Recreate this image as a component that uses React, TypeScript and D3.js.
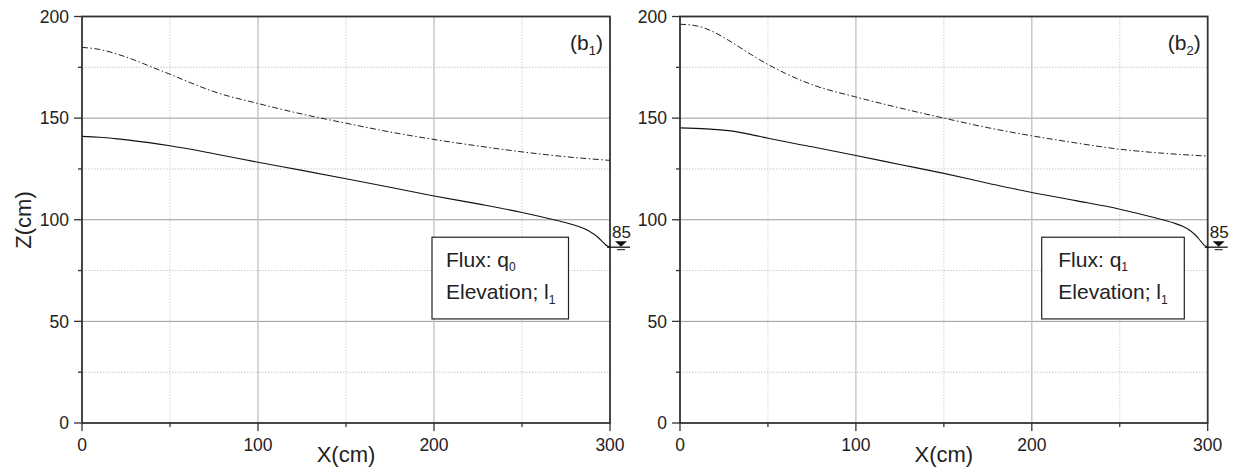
import React from "react";
import * as d3 from "d3";

// ---------- data ----------
const xTicks = [0, 100, 200, 300];
const xMinorTicks = [50, 150, 250];
const yTicks = [0, 50, 100, 150, 200];
const yMinorTicks = [25, 75, 125, 175];

const b1SolidX = [0, 10, 20, 30, 40, 50, 75, 100, 125, 150, 175, 200, 225, 250, 270, 280, 288, 293, 296, 298, 300];
const b1SolidZ = [141, 140.6, 139.8, 138.8, 137.7, 136.4, 132.5, 128.3, 124.3, 120.2, 116, 111.7, 107.8, 103.6, 99.6, 97.3, 94.5, 91.5, 89, 87.3, 86.5];
const b1DashX = [0, 10, 20, 30, 40, 50, 60, 75, 100, 125, 150, 175, 200, 225, 250, 275, 300];
const b1DashZ = [184.8, 183.8, 181.5, 178.5, 175, 171.6, 168, 163, 157.2, 152, 147.5, 143.2, 139.5, 136.3, 133.4, 131, 129.2];

const b2SolidX = [0, 15, 30, 40, 50, 75, 100, 125, 150, 175, 200, 225, 250, 270, 280, 288, 293, 296, 298, 300];
const b2SolidZ = [145.2, 144.7, 143.6, 142, 140.1, 135.9, 131.6, 127.2, 122.8, 118, 113.4, 109.4, 105.2, 101, 98.6, 95.8, 92.5, 89.5, 87.5, 86.5];
const b2DashX = [0, 10, 20, 30, 40, 50, 60, 75, 100, 125, 150, 175, 200, 225, 250, 275, 300];
const b2DashZ = [196.2, 195.3, 192, 187, 181.5, 176.4, 172, 166.5, 160.4, 155, 150, 145.3, 141.3, 137.8, 134.7, 132.7, 131.3];

const panelLabels = ["b", "b"];
const panelSubs = ["1", "2"];
const fluxSubs = ["0", "1"];
const elevSubs = ["1", "1"];
const waterLabel = "85";

const FONT = "'Liberation Sans', Arial, Helvetica, sans-serif";
const TXT = "#222";

type PanelProps = {
  x0: number;
  x1: number;
  idx: number;
  solidX: number[];
  solidZ: number[];
  dashX: number[];
  dashZ: number[];
  legendLeft: number;
  legendRight: number;
  textLeft: number;
};

const TOP = 16.5;
const BOTTOM = 423;

function Panel(p: PanelProps) {
  const x = d3.scaleLinear().domain([0, 300]).range([p.x0, p.x1]);
  const y = d3.scaleLinear().domain([0, 200]).range([BOTTOM, TOP]);
  const line = d3
    .line<[number, number]>()
    .x((d) => x(d[0]))
    .y((d) => y(d[1]))
    .curve(d3.curveMonotoneX);
  const solid = line(p.solidX.map((v, i) => [v, p.solidZ[i]] as [number, number])) || "";
  const dash = line(p.dashX.map((v, i) => [v, p.dashZ[i]] as [number, number])) || "";
  const endZ = p.solidZ[p.solidZ.length - 1];
  const wy = y(endZ);
  const wx = x(300);
  const boxTop = y(91.4);
  const boxBot = y(51.2);

  return (
    <g>
      {/* minor grid */}
      {yMinorTicks.map((t) => (
        <line key={"ym" + t} x1={p.x0} x2={p.x1} y1={y(t)} y2={y(t)} stroke="#c8c8c8" strokeWidth={1} strokeDasharray="1.5,1.5" />
      ))}
      {xMinorTicks.map((t) => (
        <line key={"xm" + t} x1={x(t)} x2={x(t)} y1={TOP} y2={BOTTOM} stroke="#d0d0d0" strokeWidth={1} strokeDasharray="1.5,1.5" />
      ))}
      {/* major grid */}
      {yTicks.slice(1, -1).map((t) => (
        <line key={"yg" + t} x1={p.x0} x2={p.x1} y1={y(t)} y2={y(t)} stroke="#9a9a9a" strokeWidth={1} />
      ))}
      {xTicks.slice(1, -1).map((t) => (
        <line key={"xg" + t} x1={x(t)} x2={x(t)} y1={TOP} y2={BOTTOM} stroke="#c0c0c0" strokeWidth={1.3} />
      ))}
      {/* curves */}
      <path d={dash} fill="none" stroke="#222" strokeWidth={1} strokeDasharray="6,2.5,1.5,2.5" />
      <path d={solid} fill="none" stroke="#111" strokeWidth={1.1} />
      {/* frame */}
      <rect x={p.x0} y={TOP} width={p.x1 - p.x0} height={BOTTOM - TOP} fill="none" stroke="#333" strokeWidth={1.8} />
      {/* ticks */}
      {yTicks.map((t) => (
        <line key={"yt" + t} x1={p.x0 - 8} x2={p.x0} y1={y(t)} y2={y(t)} stroke="#333" strokeWidth={1.3} />
      ))}
      {yMinorTicks.map((t) => (
        <line key={"ytm" + t} x1={p.x0 - 4} x2={p.x0} y1={y(t)} y2={y(t)} stroke="#333" strokeWidth={1.3} />
      ))}
      {xTicks.map((t) => (
        <line key={"xt" + t} x1={x(t)} x2={x(t)} y1={BOTTOM} y2={BOTTOM + 8} stroke="#333" strokeWidth={1.3} />
      ))}
      {xMinorTicks.map((t) => (
        <line key={"xtm" + t} x1={x(t)} x2={x(t)} y1={BOTTOM} y2={BOTTOM + 4} stroke="#333" strokeWidth={1.3} />
      ))}
      {/* tick labels */}
      {yTicks.map((t) => (
        <text key={"yl" + t} x={p.x0 - 13} y={y(t) + 6.2} textAnchor="end" fontSize={17.5} fontFamily={FONT} fill={TXT}>
          {t}
        </text>
      ))}
      {xTicks.map((t) => (
        <text key={"xl" + t} x={x(t)} y={BOTTOM + 27.5} textAnchor="middle" fontSize={17.5} fontFamily={FONT} fill={TXT}>
          {t}
        </text>
      ))}
      {/* axis title */}
      <text x={x(150)} y={462} textAnchor="middle" fontSize={22} fontFamily={FONT} fill={TXT}>
        X(cm)
      </text>
      {/* panel label */}
      <text x={p.x1 - 7} y={50} textAnchor="end" fontSize={21} fontFamily={FONT} fill={TXT}>
        ({panelLabels[p.idx]}
        <tspan fontSize={13} dy={5}>{panelSubs[p.idx]}</tspan>
        <tspan dy={-5}>)</tspan>
      </text>
      {/* legend box */}
      <rect x={p.legendLeft} y={boxTop} width={p.legendRight - p.legendLeft} height={boxBot - boxTop} fill="#fff" stroke="#222" strokeWidth={1.2} />
      <text x={p.textLeft} y={boxTop + 29.5} fontSize={21} fontFamily={FONT} fill={TXT}>
        Flux: q
        <tspan fontSize={12} dy={4}>{fluxSubs[p.idx]}</tspan>
      </text>
      <text x={p.textLeft} y={boxTop + 62} fontSize={21} fontFamily={FONT} fill={TXT}>
        Elevation; l
        <tspan fontSize={12} dy={5}>{elevSubs[p.idx]}</tspan>
      </text>
      {/* water level symbol */}
      <text x={wx + 2} y={wy - 9} fontSize={17} fontFamily={FONT} fill={TXT}>
        {waterLabel}
      </text>
      <path d={`M${wx + 5},${wy - 6} L${wx + 17},${wy - 6} L${wx + 11},${wy - 0.5} Z`} fill="#111" />
      <line x1={wx - 3} x2={wx + 20} y1={wy} y2={wy} stroke="#111" strokeWidth={1.3} />
      <line x1={wx + 7} x2={wx + 15} y1={wy + 2.5} y2={wy + 2.5} stroke="#111" strokeWidth={1} />
    </g>
  );
}

export default function App() {
  return (
    <svg width={1233} height={471} style={{ position: "absolute", left: 0, top: 0, background: "#fff" }}>
      <rect x={0} y={0} width={1233} height={471} fill="#fff" />
      <Panel x0={82} x1={610} idx={0} solidX={b1SolidX} solidZ={b1SolidZ} dashX={b1DashX} dashZ={b1DashZ} legendLeft={432} legendRight={568.5} textLeft={446} />
      <Panel x0={680} x1={1207.7} idx={1} solidX={b2SolidX} solidZ={b2SolidZ} dashX={b2DashX} dashZ={b2DashZ} legendLeft={1041.7} legendRight={1184.3} textLeft={1058.3} />
      <text transform="translate(31,220) rotate(-90)" textAnchor="middle" fontSize={22} fontFamily={FONT} fill={TXT}>
        Z(cm)
      </text>
    </svg>
  );
}
